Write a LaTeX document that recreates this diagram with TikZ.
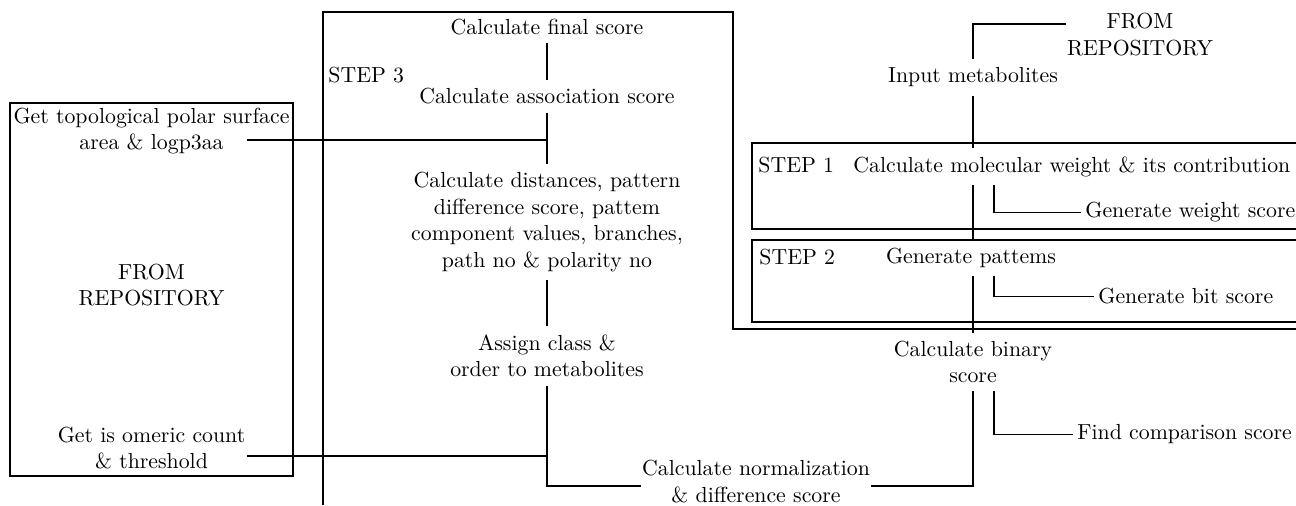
\documentclass[tikz,border=0pt]{standalone}
\begin{document}
\begin{tikzpicture}[x=0.5pt,y=-0.5pt,
  txt/.style={inner xsep=2pt, inner ysep=4pt, align=center, font=\fontsize{10.9}{13.2}\selectfont},
  conn/.style={line width=0.8pt},
  frame/.style={line width=0.8pt}]
\path[use as bounding box] (0,0) rectangle (1296,505);

% frames
\draw[frame] (10,103) rectangle (293,476);
\draw[frame] (323,505) -- (323,12) -- (733,12) -- (733,329) -- (1296,329);
\draw[frame] (1296,143) -- (752,143) -- (752,229) -- (1296,229);
\draw[frame] (1296,240) -- (752,240) -- (752,322) -- (1296,322);

% left box texts
\node[txt] (topo) at (151.5,131) {Get topological polar surface\\area \& logp3aa};
\node[txt] (fromL) at (151.5,285) {FROM\\REPOSITORY};
\node[txt] (iso) at (151.5,448) {Get is omeric count\\\& threshold};

% step 3 column
\node[txt,anchor=west] (step3) at (324,75) {STEP 3};
\node[txt] (final) at (547,27) {Calculate final score};
\node[txt] (assoc) at (547,96.5) {Calculate association score};
\node[txt] (dist) at (547,222) {Calculate distances, pattern\\difference score, pattem\\component values, branches,\\path no \& polarity no};
\node[txt] (assign) at (547,356) {Assign class \&\\order to metabolites};
\node[txt,inner xsep=0.5pt] (norm) at (756,481.5) {Calculate normalization\\\& difference score};

% right column
\node[txt] (frtop) at (1140,34.5) {FROM\\REPOSITORY};
\node[txt] (input) at (973,77.5) {Input metabolites};
\node[txt,anchor=west] (step1) at (754,165) {STEP 1};
\node[txt,anchor=west] (mw) at (849,166.5) {Calculate molecular weight \& its contribution};
\node[txt,anchor=west] (wscore) at (1081,212.5) {Generate weight score};
\node[txt,anchor=west] (step2) at (755,257) {STEP 2};
\node[txt] (genpat) at (971,257.5) {Generate pattems};
\node[txt,anchor=west] (bits) at (1094,296.5) {Generate bit score};
\node[txt] (binary) at (973,362) {Calculate binary\\score};
\node[txt,anchor=west] (find) at (1073,434.5) {Find comparison score};

\coordinate (tpin) at (247,140);
\coordinate (isoin) at (247,456);
\coordinate (frin) at (1066,24);
\coordinate (bx) at (994,0);

% connectors step 3
\draw[conn] (final) -- (assoc);
\draw[conn] (assoc) -- (dist);
\draw[conn] (dist) -- (assign);
\draw[conn] (tpin) -- (tpin -| assoc);
\draw[conn] (assign.south) |- ([yshift=-2.25pt]norm.west);
\draw[conn] (isoin) -- (isoin -| assign);

% connectors right
\draw[conn] (frin) -| (input.north);
\draw[conn] (input.south) -- (input.south |- mw.north);
\draw[conn] (input.south |- mw.south) -- (input.south |- genpat.north);
\draw[conn] (binary.north) -- (binary.north |- genpat.south);
\draw[conn] (mw.south -| bx) |- (wscore.west);
\draw[conn] (genpat.south -| bx) |- (bits.west);
\draw[conn] (binary.south -| bx) |- (find.west);
\draw[conn] ([yshift=-2.25pt]norm.east) -| (binary.south);
\end{tikzpicture}
\end{document}
